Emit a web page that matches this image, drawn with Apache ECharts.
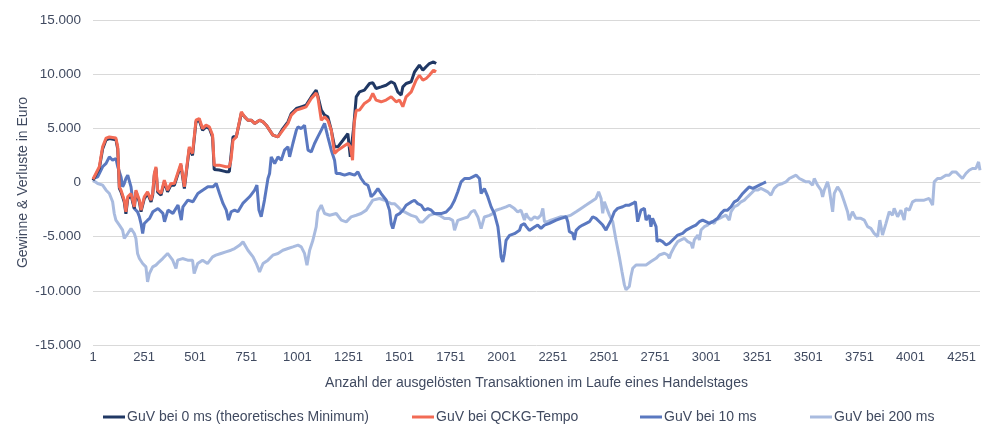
<!DOCTYPE html>
<html>
<head>
<meta charset="utf-8">
<script src="https://cdn.jsdelivr.net/npm/echarts@6/dist/echarts.min.js"></script>
<style>
  html, body { margin: 0; padding: 0; background: #fff; }
  #chart { width: 993px; height: 426px; }
</style>
</head>
<body>
<div id="chart"></div>
<script>
// Legend names
var seriesNames = [
    'GuV bei 0 ms (theoretisches Minimum)',
    'GuV bei QCKG-Tempo',
    'GuV bei 10 ms',
    'GuV bei 200 ms'
];
var seriesColors = ['#203864', '#f26b55', '#5a78c0', '#a9bbdf'];

// [transaction number, profit/loss in EUR]
var guv0ms = [
    [0,200],[31,1300],[47,3100],[64,3950],[80,4050],[112,3950],[121,3100],[129,-550],[137,-860],
    [153,-1800],[161,-2900],[170,-1500],[186,-1170],[202,-2400],[210,-860],[227,-1800],[235,-2700],
    [251,-1500],[267,-1010],[284,-1800],[292,-1170],[300,680],[308,1300],[316,-860],[333,-1170],
    [349,60],[365,-860],[381,-250],[398,-250],[414,680],[430,1600],[447,-550],[463,1900],[471,3100],
    [487,2500],[504,5600],[520,5750],[536,4830],[553,5140],[569,5000],[585,4200],[593,1200],[618,1150],
    [650,1000],[667,1000],[675,1140],[685,4215],[701,4215],[726,6400],[742,6060],[758,5750],[774,5750],
    [791,5450],[815,5750],[832,5600],[848,5290],[864,4830],[880,4370],[905,4215],[929,4980],[954,5600],
    [970,6370],[995,6830],[1019,6985],[1043,7140],[1068,7900],[1092,8520],[1100,8000],[1117,6680],
    [1133,6215],[1149,6060],[1166,4830],[1182,3290],[1198,3290],[1223,3900],[1247,4520],[1259,2370],
    [1264,2370],[1275,5000],[1288,7900],[1304,8370],[1328,8530],[1353,9140],[1369,9200],[1385,8680],
    [1410,8830],[1434,8980],[1459,9300],[1475,9140],[1491,8370],[1508,8070],[1516,8830],[1532,9140],
    [1557,9300],[1573,10200],[1597,10830],[1614,10370],[1630,10680],[1646,10980],[1666,11130],[1679,10980]
];
var guvQckg = [
    [0,300],[31,1450],[47,3290],[64,4100],[80,4200],[112,4100],[121,3290],[129,-400],[137,-710],
    [153,-1630],[161,-2710],[170,-1320],[186,-1015],[202,-2250],[210,-710],[227,-1630],[235,-2550],
    [251,-1320],[267,-860],[284,-1630],[292,-1015],[300,830],[308,1450],[316,-710],[333,-1015],
    [349,215],[365,-710],[381,-90],[398,-90],[414,830],[430,1750],[447,-400],[463,2060],[471,3290],
    [487,2680],[504,5750],[520,5900],[536,4980],[553,5290],[569,5140],[585,4370],[593,1600],[618,1600],
    [650,1450],[667,1450],[675,2060],[685,3900],[701,4215],[726,6520],[742,6060],[758,5750],[774,5750],
    [791,5450],[815,5750],[832,5600],[848,5290],[864,4830],[880,4370],[905,4215],[929,4830],[954,5450],
    [970,6215],[995,6680],[1019,6830],[1043,6985],[1068,7750],[1092,8250],[1100,7900],[1117,5750],
    [1133,6060],[1149,5750],[1166,4830],[1182,2680],[1198,2985],[1223,3300],[1247,3600],[1259,3300],
    [1270,2060],[1278,5500],[1288,6680],[1304,6690],[1328,7300],[1353,7610],[1369,8220],[1385,7610],
    [1410,7450],[1434,7610],[1459,7910],[1483,7450],[1500,7610],[1516,7000],[1532,7910],[1557,8370],
    [1581,9450],[1597,9900],[1614,9450],[1630,9600],[1646,9900],[1666,10370],[1679,10220]
];
var guv10ms = [
    [0,370],[23,520],[47,1450],[64,1760],[80,2370],[96,2060],[112,2215],[121,1450],[137,520],[145,-400],
    [153,-90],[161,370],[170,680],[178,520],[186,-400],[194,-1630],[202,-2400],[218,-2710],[227,-3170],
    [235,-3790],[243,-4700],[251,-3790],[267,-3480],[277,-3310],[293,-2700],[318,-2400],[342,-2850],
    [350,-3620],[367,-2550],[391,-2850],[416,-2085],[432,-3470],[440,-2240],[464,-1625],[489,-1780],
    [513,-1010],[538,-700],[562,-400],[587,-400],[603,-90],[619,-1010],[636,-1930],[652,-2545],
    [663,-3470],[676,-2700],[693,-2545],[709,-2700],[733,-1930],[766,-1320],[791,-700],[802,-245],
    [812,-2545],[823,-3160],[839,-1625],[856,370],[864,830],[872,2370],[889,1750],[905,2370],[921,2060],
    [937,2985],[954,3290],[962,2370],[978,3600],[995,4830],[1003,5140],[1019,4980],[1035,5290],
    [1052,2985],[1068,2830],[1084,3600],[1100,4215],[1117,4830],[1133,5450],[1149,4215],[1166,2985],
    [1182,2060],[1190,830],[1207,830],[1231,680],[1255,830],[1280,680],[1296,985],[1312,370],[1329,-90],
    [1345,-250],[1353,-710],[1361,-1320],[1377,-1010],[1394,-560],[1410,-1020],[1435,-1640],[1451,-2570],
    [1459,-3800],[1467,-4260],[1484,-3030],[1500,-2870],[1516,-2560],[1532,-2100],[1557,-1790],
    [1573,-1640],[1589,-1950],[1606,-2100],[1622,-2560],[1638,-2410],[1655,-2560],[1671,-2870],
    [1687,-2870],[1703,-2870],[1728,-2720],[1752,-2250],[1769,-1640],[1785,-860],[1801,60],[1818,370],
    [1842,370],[1858,520],[1875,680],[1891,370],[1899,-1020],[1915,-560],[1932,-1330],[1948,-2250],
    [1964,-2870],[1981,-4070],[1989,-5340],[1997,-6880],[2005,-7340],[2013,-6570],[2021,-5340],
    [2038,-4880],[2062,-4720],[2087,-4410],[2095,-3950],[2111,-3800],[2119,-4050],[2135,-4420],
    [2160,-4110],[2176,-3930],[2192,-4230],[2209,-3930],[2233,-3770],[2266,-3470],[2290,-3310],
    [2315,-3160],[2323,-3620],[2331,-4540],[2347,-4690],[2355,-5300],[2364,-4420],[2380,-4110],
    [2396,-3930],[2413,-3770],[2429,-3620],[2445,-3160],[2461,-3310],[2478,-3620],[2494,-3930],
    [2510,-4390],[2518,-4080],[2535,-3470],[2551,-2700],[2567,-2390],[2592,-2240],[2608,-2090],
    [2624,-2090],[2641,-1930],[2654,-1780],[2665,-3620],[2681,-2550],[2698,-2390],[2706,-3470],
    [2722,-3010],[2730,-4080],[2738,-3310],[2755,-4080],[2760,-5460],[2771,-5300],[2787,-5460],
    [2804,-5770],[2820,-5610],[2828,-5770],[2845,-5150],[2861,-4850],[2885,-4690],[2902,-4390],
    [2918,-4230],[2934,-4080],[2950,-3930],[2967,-3620],[2983,-3470],[2999,-3620],[3016,-3770],
    [3032,-3620],[3056,-3310],[3073,-2850],[3089,-2550],[3105,-2550],[3122,-2240],[3138,-1780],
    [3154,-1630],[3179,-1010],[3195,-700],[3211,-400],[3228,-550],[3244,-400],[3260,-250],[3277,-90],
    [3293,60]
];
var guv200ms = [
    [0,215],[23,-90],[47,-250],[64,-710],[80,-1015],[96,-1780],[104,-2860],[112,-3480],[129,-3940],
    [145,-4400],[153,-5170],[170,-4710],[186,-4250],[202,-4710],[210,-5170],[218,-6550],[227,-7020],
    [243,-7480],[259,-7790],[267,-9170],[276,-8400],[292,-7790],[308,-7630],[324,-7320],[341,-7020],
    [365,-6550],[390,-7170],[406,-7940],[414,-7170],[438,-7020],[463,-7170],[487,-7170],[495,-8400],
    [512,-7480],[536,-7170],[560,-7480],[585,-6860],[601,-6710],[626,-6550],[650,-6400],[675,-6250],
    [693,-6100],[717,-5800],[734,-5480],[758,-6250],[783,-6860],[799,-7480],[815,-8250],[832,-7480],
    [856,-7170],[880,-6710],[905,-6550],[929,-6250],[954,-6090],[978,-5940],[1003,-5780],[1019,-5940],
    [1035,-6550],[1047,-7630],[1060,-6250],[1076,-5330],[1092,-4090],[1100,-2700],[1117,-2090],
    [1133,-2860],[1158,-3020],[1190,-2860],[1215,-3480],[1239,-3630],[1263,-3170],[1288,-3020],
    [1312,-2860],[1337,-2550],[1353,-2090],[1369,-1630],[1402,-1480],[1410,-1330],[1427,-1640],
    [1443,-1800],[1459,-1950],[1475,-1950],[1492,-2250],[1508,-2560],[1524,-2720],[1540,-2870],
    [1557,-3030],[1581,-3180],[1598,-3640],[1614,-3640],[1630,-3330],[1646,-3030],[1671,-2870],
    [1695,-3030],[1720,-3330],[1744,-3330],[1760,-3490],[1769,-4410],[1785,-3490],[1809,-3330],
    [1834,-3180],[1850,-2720],[1866,-2560],[1883,-3180],[1899,-4260],[1915,-3180],[1940,-3030],
    [1956,-2870],[1972,-2560],[1997,-2410],[2021,-2250],[2038,-2100],[2062,-2410],[2078,-2720],
    [2094,-2550],[2103,-2700],[2111,-3470],[2119,-2860],[2127,-3160],[2143,-3470],[2160,-3160],
    [2176,-3310],[2192,-3010],[2201,-2390],[2209,-3620],[2225,-3620],[2241,-3470],[2266,-3310],
    [2290,-3160],[2315,-3160],[2339,-3010],[2364,-2700],[2388,-2390],[2413,-2080],[2437,-1780],
    [2461,-1470],[2474,-860],[2486,-1470],[2494,-2850],[2502,-1780],[2514,-2390],[2527,-3010],
    [2543,-3620],[2559,-5300],[2575,-6840],[2588,-8220],[2600,-9450],[2608,-9900],[2624,-9600],
    [2632,-8680],[2641,-7910],[2657,-7610],[2681,-7610],[2706,-7610],[2730,-7300],[2755,-7000],
    [2771,-6690],[2796,-6530],[2812,-6690],[2820,-7000],[2828,-6530],[2845,-5920],[2861,-5460],
    [2877,-5300],[2893,-5150],[2910,-5460],[2926,-5610],[2934,-6070],[2942,-5300],[2959,-4850],
    [2967,-5300],[2975,-4390],[2991,-4080],[3007,-3930],[3024,-3620],[3040,-3770],[3048,-3470],
    [3065,-3310],[3081,-3160],[3097,-3010],[3113,-3470],[3122,-2700],[3138,-2240],[3154,-2090],
    [3171,-1780],[3187,-1630],[3203,-1320],[3220,-1010],[3236,-700],[3252,-700],[3268,-550],
    [3285,-700],[3301,-860],[3317,-1170],[3333,-550],[3350,-250],[3374,-90],[3391,60],[3407,370],
    [3423,520],[3440,675],[3456,370],[3472,215],[3488,60],[3505,60],[3521,-250],[3529,370],[3545,-250],
    [3562,-700],[3570,-1320],[3578,-700],[3594,60],[3602,-550],[3611,-400],[3619,-2700],[3627,-1010],
    [3643,-400],[3659,-860],[3676,-1780],[3692,-2700],[3700,-3470],[3716,-2700],[3733,-3310],
    [3757,-3310],[3774,-3470],[3790,-4080],[3806,-4230],[3822,-4690],[3839,-5000],[3850,-3470],
    [3863,-4850],[3880,-3770],[3896,-2700],[3912,-3010],[3920,-2390],[3937,-3160],[3953,-2550],
    [3969,-3470],[3977,-2390],[3994,-2550],[4010,-1780],[4026,-1630],[4042,-1630],[4067,-1630],
    [4091,-1470],[4108,-2090],[4116,60],[4132,370],[4148,370],[4173,675],[4189,675],[4205,980],
    [4222,980],[4238,675],[4254,370],[4271,830],[4287,1130],[4303,1290],[4320,1290],[4333,1900],
    [4340,1130]
];
var seriesData = [guv0ms, guvQckg, guv10ms, guv200ms];

function deNumber(v) {
    var s = String(Math.abs(v)).replace(/\B(?=(\d{3})+(?!\d))/g, '.');
    return (v < 0 ? '-' : '') + s;
}

var textColor = '#404a60';
var fontFamily = 'Liberation Sans, Arial, sans-serif';

var series = [];
for (var i = 0; i < seriesData.length; i++) {
    series.push({
        name: seriesNames[i],
        type: 'line',
        data: seriesData[i],
        showSymbol: false,
        symbol: 'none',
        lineStyle: { width: 3, color: seriesColors[i] },
        itemStyle: { color: seriesColors[i] },
        z: 10 - i
    });
}
// QCKG line drawn over the 0 ms line
series[1].z = 11;

// the legend slots in the original are not evenly spaced, so one legend per item
var legendLeft = [103, 412, 640, 810];
var legends = [];
for (var k = 0; k < seriesNames.length; k++) {
    legends.push({
        bottom: 2,
        left: legendLeft[k],
        padding: 0,
        itemWidth: 22,
        itemHeight: 3,
        icon: 'rect',
        textStyle: { color: textColor, fontSize: 14, padding: [0, 0, 0, -3] },
        data: [seriesNames[k]]
    });
}

var option = {
    animation: false,
    textStyle: { fontFamily: fontFamily },
    grid: { left: 93, right: 13, top: 20, bottom: 81, containLabel: false },
    legend: legends,
    xAxis: {
        type: 'value',
        min: 0,
        max: 4340,
        interval: 250,
        name: 'Anzahl der ausgelösten Transaktionen im Laufe eines Handelstages',
        nameLocation: 'middle',
        nameGap: 31,
        nameTextStyle: { color: textColor, fontSize: 14 },
        axisLine: { show: true, lineStyle: { color: '#d9d9d9', width: 1 } },
        axisTick: { show: false },
        splitLine: { show: false },
        axisLabel: {
            color: textColor,
            fontSize: 13,
            margin: 6,
            showMaxLabel: false,
            formatter: function (v) { return String(v + 1); }
        }
    },
    yAxis: {
        type: 'value',
        min: -15000,
        max: 15000,
        interval: 5000,
        name: 'Gewinne & Verluste in Euro',
        nameLocation: 'middle',
        nameGap: 63,
        nameMoveOverlap: false,
        nameTextStyle: { color: textColor, fontSize: 14 },
        axisLine: { show: false },
        axisTick: { show: false },
        splitLine: { lineStyle: { color: '#d9d9d9', width: 1 } },
        axisLabel: {
            color: textColor,
            fontSize: 13.5,
            margin: 12,
            formatter: function (v) { return deNumber(v); }
        }
    },
    series: series
};

var chartDom = document.getElementById('chart');
var chart = echarts.init(chartDom);
chart.setOption(option, true);
</script>
</body>
</html>
